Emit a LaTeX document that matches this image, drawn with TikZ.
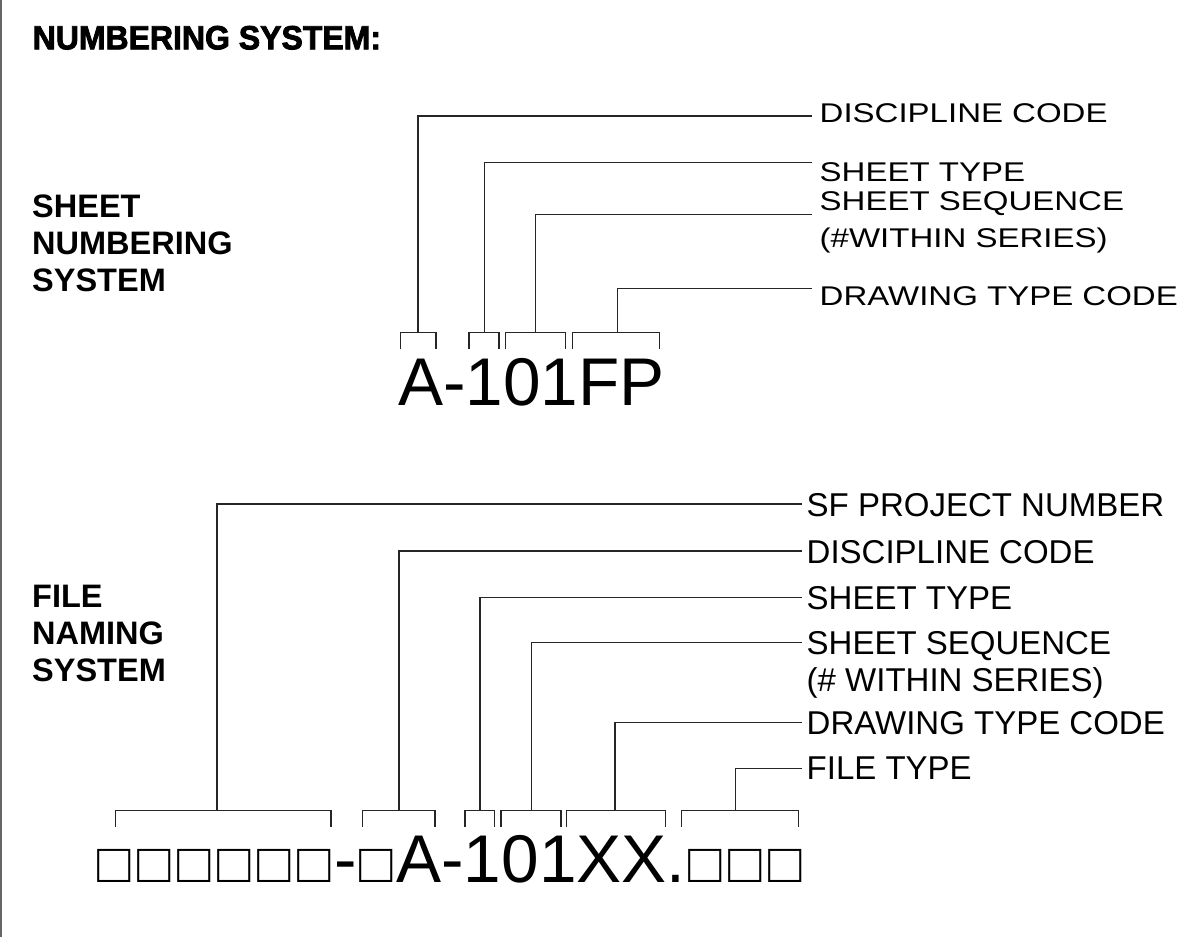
\documentclass[tikz,border=0pt]{standalone}
\usepackage{fontspec}
\setmainfont{Liberation Sans}
\newfontface\heavyfont{Liberation Sans Bold}[RawFeature={embolden=2.5}]
\usetikzlibrary{positioning}
% labels of the upper block are set flatter than wide
\newcommand\squash[1]{\scalebox{1}[0.82]{#1}}
% empty character cell, as the plotter prints it
\newcommand\tofu{\makebox[40pt]{\scalebox{0.82}{□}}}

\begin{document}
\begin{tikzpicture}[x=1pt,y=-1pt,
    lead/.style={line width=1.1pt, black!85},
    tag/.style={anchor=base west, inner sep=0pt, font=\fontsize{33}{33}\selectfont},
    side/.style={anchor=base west, inner sep=0pt, align=left, font=\bfseries\fontsize{32.5}{37}\selectfont},
    code/.style={anchor=base west, inner sep=0pt, font=\fontsize{67.5}{67.5}\selectfont}]
    \useasboundingbox (0,0) rectangle (1189,937);
    \draw[black!60, line width=1.2pt] (1,0) -- (1,937);
    \node[anchor=base west, inner sep=0pt, font=\heavyfont\fontsize{33.5}{33.5}\selectfont] (title) at (32.5,49.3) {\scalebox{0.955}[1]{NUMBERING SYSTEM:}};

    % Sheet numbering system
    \node[side] (sheetsys) at (32,291.7) {SHEET\\NUMBERING\\SYSTEM};
    \node[code] (sheetno) at (398,405) {A-101FP};
    \foreach \a/\b in {400.3/436, 469/499, 505.7/565.7, 572.3/659.3}
      \draw[lead] (\a,349.3) -- (\a,332.7) -- (\b,332.7) -- (\b,349.3);
    \coordinate (sb1) at (418,332.7);
    \coordinate (sb2) at (484.3,332.7);
    \coordinate (sb3) at (535.7,332.7);
    \coordinate (sb4) at (617.3,332.7);
    \coordinate (se1) at (812,116);
    \coordinate (se2) at (812,162.5);
    \coordinate (se3) at (812,214.3);
    \coordinate (se4) at (812,288.5);
    \node[tag] (sdisc) at (819.5,122.3) {\squash{DISCIPLINE CODE}};
    \node[tag] (stype) at (819.5,181.7) {\squash{SHEET TYPE}};
    \node[tag] (sseq) at (819.5,210) {\squash{SHEET SEQUENCE}};
    \node[tag] (sseqb) at (819.5,247.6) {\squash{(\#WITHIN SERIES)}};
    \node[tag] (sdraw) at (819.5,305) {\squash{DRAWING TYPE CODE}};
    \draw[lead] (sb1) |- (se1);
    \draw[lead] (sb2) |- (se2);
    \draw[lead] (sb3) |- (se3);
    \draw[lead] (sb4) |- (se4);

    % File naming system
    \node[side] (filesys) at (32,681.7) {FILE\\NAMING\\SYSTEM};
    \node[code] (fileno) at (93.8,882.7) {\tofu\tofu\tofu\tofu\tofu\tofu-\tofu A-101XX.\tofu\tofu\tofu};
    \foreach \a/\b in {115.3/331, 362.7/435, 465/494.3, 501/561, 566.7/665.7, 681.3/798.3}
      \draw[lead] (\a,826.7) -- (\a,810.3) -- (\b,810.3) -- (\b,826.7);
    \coordinate (fb1) at (217,810.3);
    \coordinate (fb2) at (399,810.3);
    \coordinate (fb3) at (480,810.3);
    \coordinate (fb4) at (531.3,810.3);
    \coordinate (fb5) at (615,810.3);
    \coordinate (fb6) at (735.3,810.3);
    \coordinate (fe1) at (802,504);
    \coordinate (fe2) at (802,551);
    \coordinate (fe3) at (802,597.3);
    \coordinate (fe4) at (802,642.3);
    \coordinate (fe5) at (802,722.7);
    \coordinate (fe6) at (802,768.3);
    \node[tag] (fproj) at (806.5,516) {SF PROJECT NUMBER};
    \node[tag] (fdisc) at (806.5,563) {DISCIPLINE CODE};
    \node[tag] (ftype) at (806.5,609.3) {SHEET TYPE};
    \node[tag] (fseq) at (806.5,654.3) {SHEET SEQUENCE};
    \node[tag] (fseqb) at (806.5,691) {(\# WITHIN SERIES)};
    \node[tag] (fdraw) at (806.5,734.7) {DRAWING TYPE CODE};
    \node[tag] (fkind) at (806.5,779) {FILE TYPE};
    \draw[lead] (fb1) |- (fe1);
    \draw[lead] (fb2) |- (fe2);
    \draw[lead] (fb3) |- (fe3);
    \draw[lead] (fb4) |- (fe4);
    \draw[lead] (fb5) |- (fe5);
    \draw[lead] (fb6) |- (fe6);
\end{tikzpicture}
\end{document}
